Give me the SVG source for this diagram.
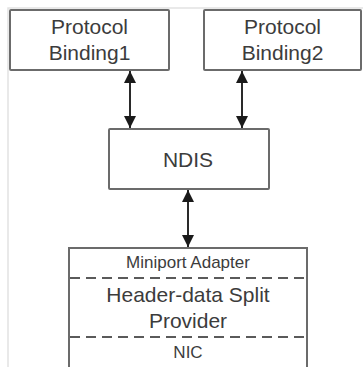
<svg xmlns="http://www.w3.org/2000/svg" width="363" height="367" viewBox="0 0 363 367">
  <defs>
    <marker id="arrow" viewBox="0 0 10 10" refX="10" refY="5" markerWidth="6" markerHeight="6" markerUnits="strokeWidth" orient="auto-start-reverse">
      <path d="M0,0 L10,5 L0,10 Z" fill="#1a1a1a"/>
    </marker>
  </defs>
  <style>
    .box { fill: #ffffff; stroke: #6b6b6b; stroke-width: 2; }
    .frame { fill: none; stroke: #e2e2e2; stroke-width: 1.5; }
    .label { font-family: "Liberation Sans", Arial, sans-serif; fill: #3c3c3c; text-anchor: middle; }
    .big { font-size: 21px; }
    .small { font-size: 17px; }
    .sep { stroke: #5a5a5a; stroke-width: 2; stroke-dasharray: 10 6; }
    .link { stroke: #2a2a2a; stroke-width: 2; fill: none; marker-start: url(#arrow); marker-end: url(#arrow); }
  </style>
  <rect width="363" height="367" fill="#ffffff"/>
  <rect class="frame" x="8" y="8" width="360" height="370"/>

  <g id="binding1">
    <rect class="box" x="10" y="10" width="159" height="60" rx="1"/>
    <text class="label big" x="89.5" y="34">Protocol</text>
    <text class="label big" x="89.5" y="60">Binding1</text>
  </g>

  <g id="binding2">
    <rect class="box" x="204" y="10" width="157" height="60" rx="1"/>
    <text class="label big" x="282.5" y="34">Protocol</text>
    <text class="label big" x="282.5" y="60">Binding2</text>
  </g>

  <g id="ndis">
    <rect class="box" x="109" y="129" width="160" height="60" rx="1"/>
    <text class="label big" x="188" y="167">NDIS</text>
  </g>

  <g id="miniport">
    <rect class="box" x="69" y="248" width="238" height="130"/>
    <line class="sep" x1="70" y1="278" x2="306" y2="278"/>
    <line class="sep" x1="70" y1="337" x2="306" y2="337"/>
    <text class="label small" x="188" y="268">Miniport Adapter</text>
    <text class="label big" x="188" y="302">Header-data Split</text>
    <text class="label big" x="188" y="328">Provider</text>
    <text class="label small" x="188" y="358">NIC</text>
  </g>

  <g id="connectors">
    <line class="link" x1="130" y1="71" x2="130" y2="128"/>
    <line class="link" x1="242" y1="71" x2="242" y2="128"/>
    <line class="link" x1="188" y1="190" x2="188" y2="247"/>
  </g>
</svg>
